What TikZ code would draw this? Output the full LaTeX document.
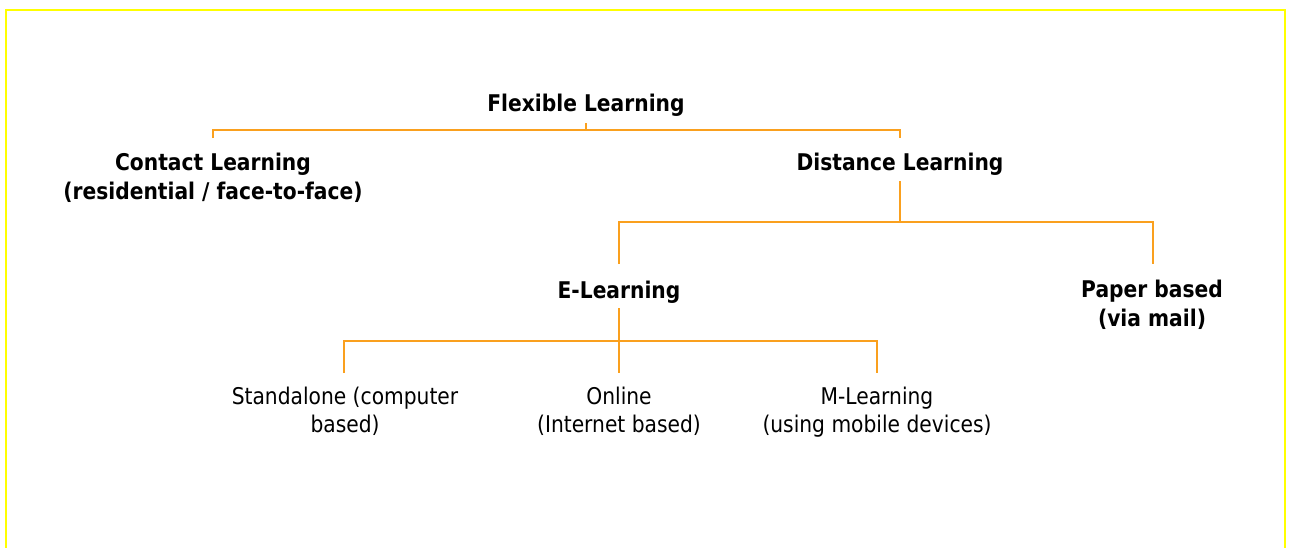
\documentclass[tikz,border=0pt]{standalone}
\usepackage{fontspec}
\setmainfont{DejaVu Sans}[FakeStretch=0.88]
\definecolor{lineorange}{RGB}{250,160,30}
\definecolor{frameyellow}{RGB}{255,255,0}
\begin{document}
\begin{tikzpicture}[x=1pt,y=-1pt,
  conn/.style={draw=lineorange,line width=1.4pt},
  frame/.style={draw=frameyellow,line width=2.2pt},
  boldlbl/.style={font=\fontsize{23}{29}\selectfont\bfseries,align=center,inner sep=0pt,anchor=base},
  plainlbl/.style={font=\fontsize{23}{27.5}\selectfont,align=center,inner sep=0pt,anchor=base}]
\useasboundingbox (0,0) rectangle (1291,547);
\fill[white] (0,0) rectangle (1291,547);
\draw[frame] (6,560) -- (6,10) -- (1285,10) -- (1285,560);

% anchor=base is the baseline of the last line
\node[boldlbl] (flex) at (586,111) {Flexible Learning};
\node[boldlbl] (contact) at (213,199) {Contact Learning\\(residential / face-to-face)};
\node[boldlbl] (distance) at (900,170) {Distance Learning};
\node[boldlbl] (elearn) at (619,298) {E-Learning};
\node[boldlbl] (paper) at (1152,326) {Paper based\\(via mail)};
\node[plainlbl] (standalone) at (345,432) {Standalone (computer\\based)};
\node[plainlbl] (online) at (619,432) {Online\\(Internet based)};
\node[plainlbl] (mlearn) at (877,432) {M-Learning\\(using mobile devices)};

% junction coordinates
\coordinate (flexB) at (586,123);
\coordinate (busA) at (586,130);
\coordinate (contactT) at (213,138);
\coordinate (distanceT) at (900,138);
\coordinate (distanceB) at (900,181);
\coordinate (busB) at (900,222);
\coordinate (elearnT) at (619,264);
\coordinate (paperT) at (1153,264);
\coordinate (elearnB) at (619,308);
\coordinate (busC) at (619,341);
\coordinate (standaloneT) at (344,373);
\coordinate (onlineT) at (619,373);
\coordinate (mlearnT) at (877,373);

\draw[conn] (flexB) -- (busA);
\draw[conn] (contactT) -- (contactT |- busA) -- (distanceT |- busA) -- (distanceT);
\draw[conn] (distanceB) -- (busB);
\draw[conn] (elearnT) -- (elearnT |- busB) -- (paperT |- busB) -- (paperT);
\draw[conn] (elearnB) -- (busC);
\draw[conn] (standaloneT) -- (standaloneT |- busC) -- (mlearnT |- busC) -- (mlearnT);
\draw[conn] (busC) -- (onlineT);
\end{tikzpicture}
\end{document}
